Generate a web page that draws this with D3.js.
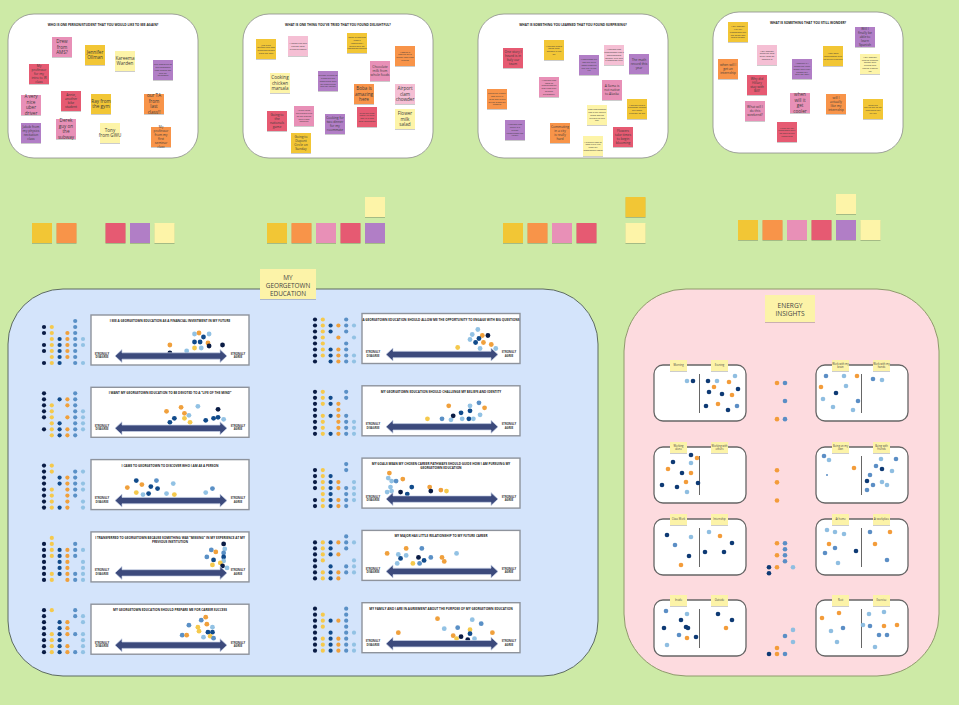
<!DOCTYPE html>
<html>
<head>
<meta charset="utf-8">
<script src="https://cdn.jsdelivr.net/npm/d3@7"></script>
<style>
html,body{margin:0;padding:0;background:#cdeaa6;overflow:hidden}
svg{display:block;font-family:"Open Sans",sans-serif}
</style>
</head>
<body>
<svg id="board" width="959" height="705"></svg>
<script>
var questionTitles = [
  "WHO IS ONE PERSON/STUDENT THAT YOU WOULD LIKE TO SEE AGAIN?",
  "WHAT IS ONE THING YOU'VE TRIED THAT YOU FOUND DELIGHTFUL?",
  "WHAT IS SOMETHING YOU LEARNED THAT YOU FOUND SURPRISING?",
  "WHAT IS SOMETHING THAT YOU STILL WONDER?"
];

// [left, top (board units), colour, text]
var notesWho = [
  [44,23,"P","Drew from AMS?"],
  [77,31,"Y","Jennifer Ollman"],
  [107,37,"LY","Kareema Warden"],
  [145,46,"V","The employee at the bookstore that helped me find my textbooks"],
  [21,50,"R","My professor for my intro to IR class"],
  [13,81,"P","A very nice uber driver"],
  [53,77,"R","Annie, another bike student"],
  [83,80,"Y","Ray from the gym"],
  [136,80,"O","our TA from last class!!"],
  [13,109,"V","Jakob from my physics recitation class"],
  [48,105,"P","Derek guy on the subway"],
  [92,109,"LY","Tony from GWU"],
  [143,113,"O","My professor from my first seminar class"]
];
var notesTried = [
  [13,25,"Y","Just tried spinach and feta breakfast wraps from the cafe"],
  [45,22,"LP","A bacon egg and cheese from bluebird bagels"],
  [104,19,"Y","Good dumplings from a restaurant I found with my roommate tonight"],
  [152,32,"O","Hosting a potluck style dinner with best friends"],
  [127,47,"P","Chocolate milk from whole foods"],
  [27,59,"LY","Cooking chicken marsala"],
  [75,57,"V","Sunday brunch at a spot on the waterfront with my best friend and my cousin"],
  [111,70,"O","Boba is amazing here"],
  [152,70,"LP","Airport clam chowder"],
  [51,92,"P","I tried using the shuttle bus to get around and it was amazing"],
  [24,97,"R","Going to the nationals game"],
  [82,100,"V","Cooking for two dinner for my roommate"],
  [114,93,"R","Tried the best boba I've ever had in a new spot downtown"],
  [152,95,"LY","Flower milk salad"],
  [48,119,"Y","Going to Dupont Circle on Sunday"]
];
var notesLearned = [
  [25,34,"R","One story I heard is in Italy our team"],
  [66,26,"Y","I learned about Swiss local schools in the DC"],
  [126,31,"LP","I learned that Georgetown has a marshmallow forager club and a chocolate club"],
  [101,41,"V","Washington DC has the third most traffic of any city in the US"],
  [151,40,"V","The math record this year"],
  [61,63,"P","I learned that most of Georgetown's first class only studied philosophy"],
  [124,66,"P","A llama is not native to Alaska"],
  [9,75,"O","Dahlgren Chapel was built in 1893 and is one of the oldest on campus"],
  [149,85,"Y","I learned that a professor shares the same birthday as me"],
  [109,91,"LY","That georgetown has a hall where ghost stories are told to this day"],
  [27,106,"V","I learned that there is a tunnel underneath the library"],
  [72,109,"O","Commuting in a city is really hard"],
  [135,113,"R","Flowers take times to begin blooming"],
  [105,122,"LY","I learned how to cook fried rice from my roommate's mom"]
];
var notesWonder = [
  [15,10,"Y","I still wonder if all my classmates feel the same way about school"],
  [142,15,"V","Will I finally be able to learn Spanish"],
  [44,33,"LP","I still wonder what the best study spot on campus is"],
  [110,34,"Y","How does Georgetown give so much funding?"],
  [147,42,"LY","I still wonder how to balance school with friends and having a social life"],
  [79,47,"V","I wonder if I chose the right major and if my classes will help me later"],
  [5,47,"O","when will I get an internship"],
  [34,63,"R","Why did Hillary stay with Bill?"],
  [77,81,"P","when will it get cooler"],
  [113,82,"O","will I actually like my internship"],
  [150,87,"Y","what the day-to-day of my internship will be like"],
  [32,89,"P","What will I do this weekend?"],
  [64,110,"R","When will my roommate and I go back to the restaurant"]
];

// sticky tallies in the middle band: columns of stacked notes (bottom first), [] = empty slot
var tallyGroups = [
  [["Y"],["O"],[],["R"],["V"],["LY"]],
  [["Y"],["O"],["P"],["R"],["V","LY"]],
  [["Y"],["O"],["P"],["R"],[],["LY","Y"]],
  [["Y"],["O"],["P"],["R"],["V","LY"],["LY"]]
];

var surveyTitles = [
  "I SEE A GEORGETOWN EDUCATION AS A FINANCIAL INVESTMENT IN MY FUTURE",
  "A GEORGETOWN EDUCATION SHOULD ALLOW ME THE OPPORTUNITY TO ENGAGE WITH BIG QUESTIONS",
  "I WANT MY GEORGETOWN EDUCATION TO BE DEVOTED TO A \u201CLIFE OF THE MIND\u201D",
  "MY GEORGETOWN EDUCATION SHOULD CHALLENGE MY BELIEFS AND IDENTITY",
  "I CAME TO GEORGETOWN TO DISCOVER WHO I AM AS A PERSON",
  "MY GOALS MEAN MY CHOSEN CAREER PATHWAYS SHOULD GUIDE HOW I AM PURSUING MY|GEORGETOWN EDUCATION",
  "I TRANSFERRED TO GEORGETOWN BECAUSE SOMETHING WAS \u201CMISSING\u201D IN MY EXPERIENCE AT MY|PREVIOUS INSTITUTION",
  "MY MAJOR HAS LITTLE RELATIONSHIP TO MY FUTURE CAREER",
  "MY GEORGETOWN EDUCATION SHOULD PREPARE ME FOR CAREER SUCCESS",
  "MY FAMILY AND I ARE IN AGREEMENT ABOUT THE PURPOSE OF MY GEORGETOWN EDUCATION"
];

// participation grid next to each statement, rows top to bottom, 6 colour columns
var surveyGrid = [
  ["....1.","11..1.","11.11.",".11111","111111","11111.",".1111.","111.11"],
  ["11..1.","111111","111.1.","11.1.1","11..1.","11111.","111111","1.1111"],
  ["1...1.","1.111.","11.11.","11..11","11.111",".11.11","111111",".1111."],
  ["11..1.","111.1.","1111..","1..1..","11111.","11.111","11.111","111111"],
  ["11....","11..11","1.111.","1.1111","11.111","11.11.","11.1.1","1111.1"],
  ["....1.","11..1.","111...","1111.1","111111",".11.11","111111","11111."],
  [".1....","11..1.","111111","11111.","1.11.1","1.11.1","111111","11.111"],
  ["....1.","111111","111.1.","1111..","11...1","1.1.11","111111","1111.."],
  ["11..1.","1...11","1.11.1","1.11..","111111","111..1","1111.1","111111"],
  ["1...1.","11..1.","11111.","11..1.","1.1.11","11111.","111111","111111"]
];

// votes: [agreement 0-100, stack height above arrow, colour]
var surveyDots = [
  [[49,11,"O"],[49,3,"N"],[64,5,"L"],[71,22,"L"],[75,23,"O"],[84,22,"L"],[71,14,"D"],[76,14,"D"],[79,19,"D"],[83,13,"O"],[84,10,"N"],[71,8,"Y"],[77,8,"L"],[96,11,"N"]],
  [[64,7,"Y"],[82,25,"L"],[77,20,"L"],[86,19,"O"],[91,19,"N"],[83,16,"D"],[75,15,"L"],[80,12,"D"],[87,12,"O"],[94,10,"O"],[84,6,"L"],[98,6,"L"]],
  [[46,17,"O"],[59,21,"O"],[62,15,"O"],[66,13,"L"],[74,22,"L"],[62,10,"Y"],[67,6,"Y"],[49,6,"D"],[53,10,"D"],[81,8,"D"],[88,10,"D"],[92,19,"N"],[92,11,"D"],[97,9,"L"]],
  [[37,8,"Y"],[56,21,"O"],[50,8,"M"],[58,7,"L"],[60,11,"N"],[67,14,"D"],[68,8,"L"],[74,8,"D"],[75,16,"D"],[75,21,"L"],[83,24,"M"],[78,8,"L"],[84,12,"L"],[88,19,"O"]],
  [[11,13,"O"],[19,20,"D"],[24,16,"O"],[19,8,"Y"],[25,6,"L"],[37,20,"M"],[32,14,"D"],[38,12,"D"],[30,7,"D"],[46,7,"L"],[52,17,"L"],[53,6,"Y"],[81,8,"L"],[87,12,"M"]],
  [[3,26,"O"],[2,21,"L"],[5,18,"L"],[9,18,"M"],[15,20,"O"],[4,12,"L"],[1,7,"L"],[5,8,"L"],[13,7,"N"],[19,5,"D"],[23,12,"D"],[39,12,"O"],[40,8,"N"],[49,9,"O"],[54,8,"Y"]],
  [[97,29,"N"],[98,24,"L"],[86,23,"M"],[90,21,"O"],[97,20,"M"],[82,16,"M"],[97,16,"D"],[88,13,"D"],[97,12,"L"],[94,10,"Y"],[87,8,"Y"],[96,7,"N"],[100,5,"L"]],
  [[1,18,"O"],[11,17,"L"],[18,23,"O"],[32,23,"M"],[13,13,"D"],[18,16,"L"],[10,8,"L"],[24,8,"Y"],[30,8,"M"],[29,14,"N"],[34,11,"D"],[40,14,"M"],[50,14,"O"],[52,10,"O"],[63,18,"L"]],
  [[81,28,"O"],[77,25,"M"],[66,20,"M"],[82,21,"O"],[74,18,"Y"],[87,18,"L"],[75,14,"Y"],[83,13,"D"],[87,13,"D"],[60,10,"M"],[64,10,"O"],[79,8,"L"],[85,9,"Y"],[88,7,"M"]],
  [[11,11,"O"],[46,25,"O"],[52,15,"L"],[64,16,"M"],[77,24,"L"],[85,20,"M"],[75,14,"Y"],[60,8,"O"],[63,5,"Y"],[67,7,"N"],[75,10,"D"],[73,4,"N"],[79,5,"L"],[95,11,"O"]]
];

var energyPairs = [
  ["Morning","Evening"],["Work with my brain","Work with my hands"],
  ["Working alone","Working with others"],["Being on my own","Being with friends"],
  ["Class Work","Internship"],["At home","At workplace"],
  ["Inside","Outside"],["Rest","Exercise"]
];
// [x, y inside the card (0-92 by 0-56), colour]
var energyDots = [
  [[33,16,"L"],[39,16,"D"],[54,16,"D"],[63,16,"L"],[75,17,"O"],[81,11,"L"],[60,22,"O"],[84,24,"D"],[55,27,"D"],[68,29,"D"],[78,30,"O"],[64,39,"O"],[52,41,"D"],[74,45,"D"],[83,41,"M"]],
  [[10,11,"M"],[28,11,"L"],[41,11,"O"],[5,22,"O"],[30,21,"L"],[20,28,"D"],[7,34,"L"],[42,36,"M"],[17,42,"L"],[37,45,"L"],[57,14,"M"],[66,15,"L"]],
  [[37,8,"D"],[43,11,"O"],[19,15,"D"],[37,16,"L"],[14,22,"O"],[28,26,"D"],[37,26,"O"],[32,35,"O"],[44,36,"D"],[8,38,"D"],[23,40,"D"],[33,45,"L"]],
  [[8,9,"M"],[13,13,"L"],[11,28,"s"],[38,21,"O"],[65,12,"L"],[80,12,"M"],[60,19,"M"],[66,22,"D"],[76,24,"L"],[54,28,"M"],[51,34,"D"],[66,35,"L"],[57,38,"M"],[71,38,"L"],[51,43,"M"]],
  [[13,16,"D"],[37,18,"L"],[21,26,"M"],[35,37,"D"],[27,46,"O"],[55,13,"L"],[66,17,"O"],[78,24,"D"],[51,33,"D"],[70,33,"D"]],
  [[11,11,"L"],[19,13,"L"],[28,15,"L"],[13,25,"O"],[19,29,"M"],[9,34,"M"],[40,32,"D"],[22,44,"L"],[54,13,"M"],[74,13,"O"],[59,25,"O"],[71,41,"M"]],
  [[12,11,"M"],[33,14,"L"],[27,20,"D"],[32,27,"D"],[34,28,"D"],[10,28,"D"],[25,35,"M"],[33,38,"O"],[42,37,"D"],[13,45,"L"],[64,14,"D"],[78,20,"D"],[72,28,"O"]],
  [[23,13,"O"],[6,18,"O"],[15,31,"L"],[27,28,"M"],[21,42,"L"],[53,14,"L"],[68,12,"L"],[47,25,"L"],[54,26,"M"],[68,26,"O"],[81,25,"O"],[63,35,"M"],[71,35,"M"],[59,47,"L"]]
];
// loose dots between the two card columns: [column, row, colour]
var energyKey = [
  [1,0,"O"],[2,0,"M"],[2,3,"M"],[1,6,"O"],[2,6,"M"],
  [1,14.5,"O"],[1,16.5,"O"],[1,19.5,"O"],
  [1,26.6,"O"],[2,26.6,"M"],[2,27.6,"M"],[1,28.6,"O"],[2,28.6,"M"],[2,29.6,"M"],
  [0,30.6,"D"],[1,30.6,"O"],[3,30.6,"L"],[0,31.6,"D"],
  [3,41,"L"],[2,42,"M"],[3,43,"L"],[1,44,"O"],[0,45,"D"],[1,45,"O"],[2,45,"M"]
];

// ---------- styles ----------
var noteFill = {Y:"#f2c635",O:"#f8944a",P:"#e890b7",R:"#e65a72",V:"#b17ec6",LY:"#fdf4a8",LP:"#f5bfd4"};
var voteFill = {N:"#0a1c45",Y:"#f5c94c",D:"#114b8b",O:"#f0a03c",M:"#5a90c6",L:"#92c2e4"};
var gridFill = ["#0a1c45","#f5c94c","#114b8b","#f0a03c","#5a90c6","#92c2e4"];
var energyFill = {D:"#0e3a74",M:"#5b8ec5",L:"#8fbee1",O:"#f39c3a",s:"#5b8ec5"};

var svg = d3.select("#board");
var defs = svg.append("defs");
var filt = defs.append("filter").attr("id","shadow")
  .attr("x","-20%").attr("y","-20%").attr("width","140%").attr("height","150%");
filt.append("feDropShadow").attr("dx",0).attr("dy",0.8).attr("stdDeviation",0.6)
  .attr("flood-color","#000").attr("flood-opacity",0.25);

svg.append("rect").attr("width",959).attr("height",705).attr("fill","#cdeaa6");

function wrapText(g, cx, cy, w, str, fs, color, weight){
  var words = str.split(" "), lines = [], cur = "";
  var maxChars = Math.max(1, Math.floor(w / (fs*0.46)));
  words.forEach(function(wd){
    var t = cur ? cur + " " + wd : wd;
    if (t.length > maxChars && cur) { lines.push(cur); cur = wd; } else cur = t;
  });
  if (cur) lines.push(cur);
  var lh = fs*1.2;
  var t = g.append("text").attr("text-anchor","middle").attr("font-size",fs)
    .attr("fill",color || "#333").attr("font-weight",weight || 400);
  lines.forEach(function(l,i){
    t.append("tspan").attr("x",cx).attr("y",cy + (i-(lines.length-1)/2)*lh + fs*0.35).text(l);
  });
}

function sticky(g, x, y, w, h, fill){
  return g.append("rect").attr("x",x).attr("y",y).attr("width",w).attr("height",h)
    .attr("fill",fill).attr("filter","url(#shadow)");
}

// ---------- question boards ----------
var boardLayout = [{x:8,y:14,w:190,h:144},{x:243,y:14,w:190,h:144},{x:478,y:14,w:190,h:144},{x:713,y:12,w:190,h:141}];
var boardNotes = [notesWho, notesTried, notesLearned, notesWonder];

boardLayout.forEach(function(b,i){
  var g = svg.append("g");
  g.append("rect").attr("x",b.x).attr("y",b.y).attr("width",b.w).attr("height",b.h)
    .attr("rx",26).attr("fill","#fff").attr("stroke","#8c8c8c").attr("stroke-width",0.8);
  g.append("text").attr("x",b.x+b.w/2).attr("y",b.y+12).attr("text-anchor","middle")
    .attr("font-size",3.2).attr("font-weight",700).attr("fill","#222").text(questionTitles[i]);
  var sx = d3.scaleLinear().domain([0,b.w]).range([b.x,b.x+b.w]);
  var sy = d3.scaleLinear().domain([0,b.h]).range([b.y,b.y+b.h]);
  boardNotes[i].forEach(function(d){
    var len = d[3].length;
    var fs = len <= 24 ? 4.6 : (len <= 40 ? 3.3 : 2.3);
    sticky(g, sx(d[0]), sy(d[1]), 20, 20, noteFill[d[2]]);
    wrapText(g, sx(d[0])+10, sy(d[1])+10, 17, d[3], fs, "#3a3a3a");
  });
});

// ---------- sticky tallies ----------
var tallyAnchors = [[32,223],[267,223],[503,223],[738,220]];
tallyGroups.forEach(function(cols,gi){
  var tx = d3.scaleLinear().domain([0,1]).range([tallyAnchors[gi][0], tallyAnchors[gi][0]+24.5]);
  var ty = d3.scaleLinear().domain([0,1]).range([tallyAnchors[gi][1], tallyAnchors[gi][1]-26]);
  cols.forEach(function(stack,ci){
    stack.forEach(function(c,k){ sticky(svg, tx(ci), ty(k), 20, 20, noteFill[c]); });
  });
});

// ---------- MY GEORGETOWN EDUCATION ----------
svg.append("rect").attr("x",8).attr("y",289).attr("width",590).attr("height",387).attr("rx",55)
  .attr("fill","#d4e4fb").attr("stroke","#5d6b60").attr("stroke-width",1);
sticky(svg, 260, 269, 56, 30, "#fcf3a8");
["MY","GEORGETOWN","EDUCATION"].forEach(function(s,i){
  svg.append("text").attr("x",288).attr("y",279.5+i*8.3).attr("text-anchor","middle")
    .attr("font-size",6.4).attr("fill","#444").text(s);
});

function drawArrow(g, x1, x2, y){
  var sh = 3.2, hh = 6.5, hl = 7;
  var p = d3.path();
  p.moveTo(x1, y); p.lineTo(x1+hl, y-hh); p.lineTo(x1+hl, y-sh); p.lineTo(x2-hl, y-sh);
  p.lineTo(x2-hl, y-hh); p.lineTo(x2, y); p.lineTo(x2-hl, y+hh); p.lineTo(x2-hl, y+sh);
  p.lineTo(x1+hl, y+sh); p.lineTo(x1+hl, y+hh); p.closePath();
  g.append("path").attr("d",p.toString()).attr("fill","#3c4a7c").attr("stroke","#c8d2e6").attr("stroke-width",0.7);
}

surveyTitles.forEach(function(title,i){
  var col = i % 2, row = Math.floor(i/2);
  var bx = col ? 362 : 91, by = 315 + row*72.3 - col*1.5;
  var g = svg.append("g");

  // participation grid
  var gx = d3.scaleLinear().domain([0,5]).range([bx-47, bx-8]);
  var gy = d3.scaleLinear().domain([0,7]).range([by+6, by+48]);
  surveyGrid[i].forEach(function(r,ri){
    r.split("").forEach(function(ch,ci){
      if (ch === "1") g.append("circle").attr("cx",gx(ci)).attr("cy",gy(ri)).attr("r",2.1).attr("fill",gridFill[ci]);
    });
  });

  g.append("rect").attr("x",bx).attr("y",by).attr("width",158).attr("height",50)
    .attr("fill","#fff").attr("stroke","#8e939c").attr("stroke-width",1.4);
  var tl = title.split("|");
  tl.forEach(function(s,k){
    g.append("text").attr("x",bx+79).attr("y",by+7+k*4).attr("text-anchor","middle")
      .attr("font-size",3.1).attr("font-weight",700).attr("fill","#222").text(s);
  });

  var ax = d3.scaleLinear().domain([0,100]).range([bx+24, bx+136]);
  var ay = d3.scaleLinear().domain([0,30]).range([by+41, by+11]);
  g.selectAll("circle.vote").data(surveyDots[i]).enter().append("circle")
    .attr("class","vote").attr("cx",function(d){return ax(d[0]);}).attr("cy",function(d){return ay(d[1]);})
    .attr("r",2.4).attr("fill",function(d){return voteFill[d[2]];});
  drawArrow(g, bx+24, bx+136, by+41);

  [["STRONGLY","DISAGREE",bx+11],["STRONGLY","AGREE",bx+147]].forEach(function(l){
    g.append("text").attr("x",l[2]).attr("y",by+39.5).attr("text-anchor","middle")
      .attr("font-size",2.7).attr("font-weight",700).attr("fill","#333").text(l[0]);
    g.append("text").attr("x",l[2]).attr("y",by+43).attr("text-anchor","middle")
      .attr("font-size",2.7).attr("font-weight",700).attr("fill","#333").text(l[1]);
  });
});

// ---------- ENERGY INSIGHTS ----------
svg.append("rect").attr("x",624).attr("y",289).attr("width",315).attr("height",387).attr("rx",62)
  .attr("fill","#fddbdf").attr("stroke","#8e9a6b").attr("stroke-width",1);
sticky(svg, 765, 295, 50, 27, "#fcf3a8");
["ENERGY","INSIGHTS"].forEach(function(s,i){
  svg.append("text").attr("x",790).attr("y",308+i*8.3).attr("text-anchor","middle")
    .attr("font-size",6.6).attr("fill","#444").text(s);
});

var cardX = [654, 816], cardY = [365, 447, 519, 600];
energyPairs.forEach(function(pair,i){
  var cx0 = cardX[i%2], cy0 = cardY[Math.floor(i/2)];
  var g = svg.append("g");
  g.append("rect").attr("x",cx0).attr("y",cy0).attr("width",92).attr("height",56).attr("rx",9)
    .attr("fill","#fff").attr("stroke","#666").attr("stroke-width",1.3);
  var ex = d3.scaleLinear().domain([0,92]).range([cx0, cx0+92]);
  var ey = d3.scaleLinear().domain([0,56]).range([cy0, cy0+56]);
  g.append("line").attr("x1",ex(45.5)).attr("x2",ex(45.5)).attr("y1",ey(9)).attr("y2",ey(48))
    .attr("stroke","#666").attr("stroke-width",1);
  g.selectAll("circle").data(energyDots[i]).enter().append("circle")
    .attr("cx",function(d){return ex(d[0]);}).attr("cy",function(d){return ey(d[1]);})
    .attr("r",function(d){return d[2]==="s" ? 1 : 2.3;})
    .attr("fill",function(d){return energyFill[d[2]];});
  [24.5,65.5].forEach(function(c,k){
    sticky(g, ex(c)-8.5, cy0-5, 17, 11, "#fcf3a8");
    wrapText(g, ex(c), cy0+0.5, 15, pair[k], 2.6, "#444");
  });
});

var kx = d3.scaleLinear().domain([0,3]).range([769,793]);
var ky = d3.scaleLinear().domain([0,45]).range([383,654]);
svg.append("g").selectAll("circle").data(energyKey).enter().append("circle")
  .attr("cx",function(d){return kx(d[0]);}).attr("cy",function(d){return ky(d[1]);})
  .attr("r",2.3).attr("fill",function(d){return energyFill[d[2]];});
</script>
</body>
</html>
